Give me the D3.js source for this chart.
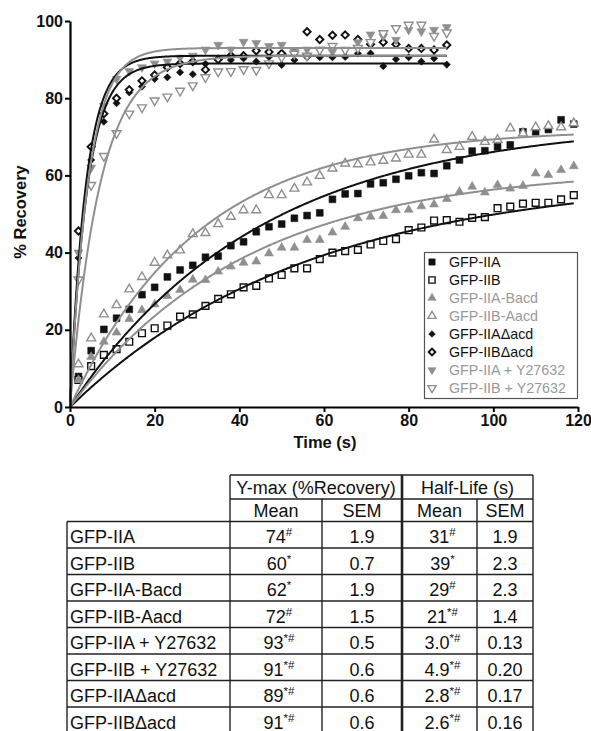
<!DOCTYPE html>
<html><head><meta charset="utf-8">
<script src="https://cdn.jsdelivr.net/npm/d3@7"></script>
<style>body{margin:0;background:#fff}svg{display:block;font-family:Arial,"Liberation Sans",sans-serif}</style>
</head><body><svg id="c" width="591" height="731"></svg>
<script>
// ---------- DATA ----------
const slowTimes = [2,5,8,11,14,17,20,23,26,29,32,35,38,41,44,47,50,53,56,59,62,65,68,71,74,77,80,83,86,89,92,95,98,101,104,107,110,113,116,119];
const fastTimes = [2,5,8,11,14,17,20,23,26,29,32,35,38,41,44,47,50,53,56,59,62,65,68,71,74,77,80,83,86,89];

const seriesNames = ["GFP-IIA","GFP-IIB","GFP-IIA-Bacd","GFP-IIB-Aacd","GFP-IIA\u0394acd","GFP-IIB\u0394acd","GFP-IIA + Y27632","GFP-IIB + Y27632"];

const valIIA = [7.9,14.6,20.1,23,25.3,29.1,31,33.7,35.5,36.7,38.8,39.1,41.8,42.8,45.4,46.7,47.4,48.9,49.6,50.3,53.8,55.2,55.3,57.8,58.1,59,59.9,60.7,60.5,62.5,64,66.3,66.4,67.4,67.9,71.3,71.3,71.9,74.4,73.3];
const valIIB = [7,10.6,13.5,15,16.9,19.1,20.4,21.1,23.4,24,26.2,28,29.2,31,31.4,33.3,34.2,35.9,35.9,38.3,40,40.4,40.7,42.1,43,43.5,45.8,46.5,48.3,48.4,48,49,49.2,51.5,51.9,52.7,52.9,52.9,53.8,54.9];
const valIIABacd = [7,13,16.9,19.3,22.8,25.1,26.6,28.8,30.3,33,32.9,35.1,36.4,37.4,37.7,39.8,41.3,41.3,43.3,43.3,45.2,46.7,48.9,49.3,49.5,51,51.1,52,52.5,53.9,55.8,57.1,55.6,57.5,56.6,57.3,60.5,60.1,61.4,62.4];
const valIIBAacd = [11.1,17.8,24,26.4,30.5,33.7,37.4,39.3,40.6,44.8,45.1,47.4,49.3,51,51,54.9,54.9,56.6,58.2,59.9,61.8,63.1,62.9,63.4,63.8,64.4,65.4,65.4,69.3,66.6,67.4,70,68.7,69.2,72.2,70.9,72.5,72.8,72.5,73.5];
const valIIAdacd = [38.6,64,73.9,78.7,81.5,83,85,85.4,86.7,86.2,88.9,90.3,89.9,90.3,89.5,90.7,88.6,89.9,90.6,90.6,90.6,90.7,91.6,91.6,88.3,90.1,90.6,89.5,90.3,88.7];
const valIIBdacd = [45.6,67.4,76,80,82.2,84.5,86,88,89,89.5,87.4,90,91,91,92.3,92,91.6,91.9,97.2,95.2,96.3,96.4,95.2,94,94.5,94,92.9,92.9,92.5,93.8];
const valIIAY = [40,62,78,85,87,88,89,89.5,90.5,91,92.6,93.8,92.6,94.6,94.3,93.5,93.8,92,92.6,92.6,92,92.5,94.5,96.5,96,95.1,97.7,97.3,97.7,98.4];
const valIIBY = [33,57.5,65,70.9,76,77.6,79.4,80.4,81.9,83.3,85.4,86.9,87,87.5,87.3,89,90.6,91.5,91,92.5,93.5,92.5,93,94.5,96.8,98.1,99,99,96.1,97];

const yTicks = [0,20,40,60,80,100];
const xTicks = [0,20,40,60,80,100,120];

// table
const tableRows = ["GFP-IIA","GFP-IIB","GFP-IIA-Bacd","GFP-IIB-Aacd","GFP-IIA + Y27632","GFP-IIB + Y27632","GFP-IIA\u0394acd","GFP-IIB\u0394acd"];
const ymaxMean = ["74","60","62","72","93","91","89","91"];
const ymaxMark = ["#","*","*","#","*#","*#","*#","*#"];
const ymaxSEM = ["1.9","0.7","1.9","1.5","0.5","0.6","0.6","0.6"];
const halfMean = ["31","39","29","21","3.0","4.9","2.8","2.6"];
const halfMark = ["#","*","#","*#","*#","*#","*#","*#"];
const halfSEM = ["1.9","2.3","2.3","1.4","0.13","0.20","0.17","0.16"];

// ---------- STYLE ----------
const BLACK = "#111", GRAY = "#8f8f8f";
const series = [
  {name:seriesNames[0], t:slowTimes, v:valIIA, shape:"square", fill:true, color:BLACK},
  {name:seriesNames[1], t:slowTimes, v:valIIB, shape:"square", fill:false, color:BLACK},
  {name:seriesNames[2], t:slowTimes, v:valIIABacd, shape:"tri", fill:true, color:GRAY},
  {name:seriesNames[3], t:slowTimes, v:valIIBAacd, shape:"tri", fill:false, color:GRAY},
  {name:seriesNames[4], t:fastTimes, v:valIIAdacd, shape:"diamond", fill:true, color:BLACK},
  {name:seriesNames[5], t:fastTimes, v:valIIBdacd, shape:"diamond", fill:false, color:BLACK},
  {name:seriesNames[6], t:fastTimes, v:valIIAY, shape:"down", fill:true, color:GRAY},
  {name:seriesNames[7], t:fastTimes, v:valIIBY, shape:"down", fill:false, color:GRAY}
];

const svg = d3.select("#c");
const x = d3.scaleLinear().domain([0,120]).range([70,578]);
const y = d3.scaleLinear().domain([0,100]).range([407,21]);

function symPath(shape, small){
  const k = small ? 0.85 : 1;
  if (shape==="square") return d3.symbol(d3.symbolSquare, 46*k)();
  if (shape==="tri" || shape==="down") return d3.symbol(d3.symbolTriangle, 34*k)();
  return d3.symbol(d3.symbolSquare, 26*k)();
}
function symTransform(shape, px, py){
  if (shape==="down") return `translate(${px},${py}) rotate(180)`;
  if (shape==="diamond") return `translate(${px},${py}) rotate(45)`;
  return `translate(${px},${py})`;
}
function styleSym(sel, s){
  sel.attr("fill", s.fill ? s.color : "#fff")
     .attr("stroke", s.color)
     .attr("stroke-width", s.fill ? 0.6 : (s.shape==="diamond"?1.9:1.4));
}

// fit parameters from table
function fitFor(name){
  const i = tableRows.indexOf(name);
  return {ymax:+ymaxMean[i], half:+halfMean[i]};
}

// points
series.forEach(s=>{
  const g = svg.append("g");
  const pts = s.t.map((t,i)=>({t, v:s.v[i]}));
  g.selectAll("path").data(pts).join("path")
    .attr("d", symPath(s.shape))
    .attr("transform", d=>symTransform(s.shape, x(d.t), y(d.v)))
    .call(styleSym, s);
});

// fit lines
const line = d3.line().x(d=>x(d[0])).y(d=>y(d[1]));
series.forEach(s=>{
  const f = fitFor(s.name);
  const tmax = d3.max(s.t);
  const samples = d3.range(0, tmax+0.001, 0.25).map(t=>[t, f.ymax*(1-Math.pow(2,-t/f.half))]);
  svg.append("path").datum(samples).attr("d", line)
    .attr("fill","none").attr("stroke", s.color).attr("stroke-width", 2);
});

// axes
const yAxis = svg.append("g").attr("transform","translate(70,0)")
  .call(d3.axisLeft(y).tickValues(yTicks).tickSize(5).tickSizeOuter(0).tickPadding(2));
const xAxis = svg.append("g").attr("transform","translate(0,407)")
  .call(d3.axisBottom(x).tickValues(xTicks).tickSize(5).tickSizeOuter(0).tickPadding(3));
[yAxis,xAxis].forEach(a=>{
  a.select(".domain").attr("stroke","#000").attr("stroke-width",2.2);
  a.selectAll(".tick line").attr("stroke","#000").attr("stroke-width",2);
  a.selectAll(".tick text").attr("font-family","Arial, 'Liberation Sans', sans-serif")
    .attr("font-size",16).attr("font-weight","bold").attr("fill","#111");
});

svg.append("text").attr("transform","translate(26,212) rotate(-90)")
  .attr("text-anchor","middle").attr("font-size",16.5).attr("font-weight","bold").attr("fill","#111")
  .text("% Recovery");
svg.append("text").attr("x",325).attr("y",448)
  .attr("text-anchor","middle").attr("font-size",16.5).attr("font-weight","bold").attr("fill","#111")
  .text("Time (s)");

// legend
const lg = svg.append("g");
lg.append("rect").attr("x",424.5).attr("y",252.5).attr("width",153).attr("height",146)
  .attr("fill","#fff").attr("stroke","#555").attr("stroke-width",1.2);
series.forEach((s,i)=>{
  const cy = 262 + i*18;
  lg.append("path").attr("d", symPath(s.shape,true))
    .attr("transform", symTransform(s.shape, 432, cy)).call(styleSym, s);
  lg.append("text").attr("x",449).attr("y",cy+5).attr("font-size",14.3)
    .attr("fill", s.color===BLACK ? "#111" : "#999").text(s.name);
});

// table
const cols = [67,230,322,402,477,533];
const rH = 26.5, top0 = 475, h1 = 24, h2 = 22.5;
const dataTop = top0 + h1 + h2;
const tg = svg.append("g").attr("font-size",18).attr("fill","#111");
const stroke = (x1,y1,x2,y2,w)=>tg.append("line").attr("x1",x1).attr("y1",y1).attr("x2",x2).attr("y2",y2)
  .attr("stroke","#222").attr("stroke-width",w||1.4);
stroke(cols[1],top0,cols[5],top0);
stroke(cols[1],top0+h1,cols[5],top0+h1);
stroke(cols[0],dataTop,cols[5],dataTop);
stroke(cols[1],top0,cols[1],dataTop);
stroke(cols[3],top0,cols[3],dataTop,2.6);
stroke(cols[5],top0,cols[5],dataTop);
stroke(cols[2],top0+h1,cols[2],dataTop);
stroke(cols[4],top0+h1,cols[4],dataTop);
tg.append("text").attr("x",(cols[1]+cols[3])/2).attr("y",top0+h1-5).attr("text-anchor","middle").text("Y-max (%Recovery)");
tg.append("text").attr("x",(cols[3]+cols[5])/2).attr("y",top0+h1-5).attr("text-anchor","middle").text("Half-Life (s)");
["Mean","SEM","Mean","SEM"].forEach((t,i)=>{
  tg.append("text").attr("x",(cols[i+1]+cols[i+2])/2).attr("y",dataTop-4.5).attr("text-anchor","middle").text(t);
});
const rows = tableRows.map((n,i)=>({n,i}));
const rg = tg.selectAll("g.row").data(rows).join("g").attr("class","row")
  .attr("transform",d=>`translate(0,${dataTop + d.i*rH})`);
rg.each(function(d){
  const g = d3.select(this);
  const i = d.i;
  g.append("line").attr("x1",cols[0]).attr("x2",cols[5]).attr("y1",rH).attr("y2",rH).attr("stroke","#222").attr("stroke-width",1.4);
  [0,1,2,3,4,5].forEach(c=>{
    g.append("line").attr("x1",cols[c]).attr("x2",cols[c]).attr("y1",0).attr("y2",rH)
      .attr("stroke","#222").attr("stroke-width", c===3?2.6:1.4);
  });
  const by = rH-5;
  g.append("text").attr("x",cols[0]+3).attr("y",by).text(d.n);
  const cell = (c, main, sup)=>{
    const t = g.append("text").attr("x",(cols[c]+cols[c+1])/2 + (sup? 3:0)).attr("y",by).attr("text-anchor","middle");
    t.append("tspan").text(main);
    if (sup) t.append("tspan").attr("font-size",11.5).attr("dy",-7).text(sup);
  };
  cell(1, ymaxMean[i], ymaxMark[i]);
  cell(2, ymaxSEM[i]);
  cell(3, halfMean[i], halfMark[i]);
  cell(4, halfSEM[i]);
});
</script></body></html>
